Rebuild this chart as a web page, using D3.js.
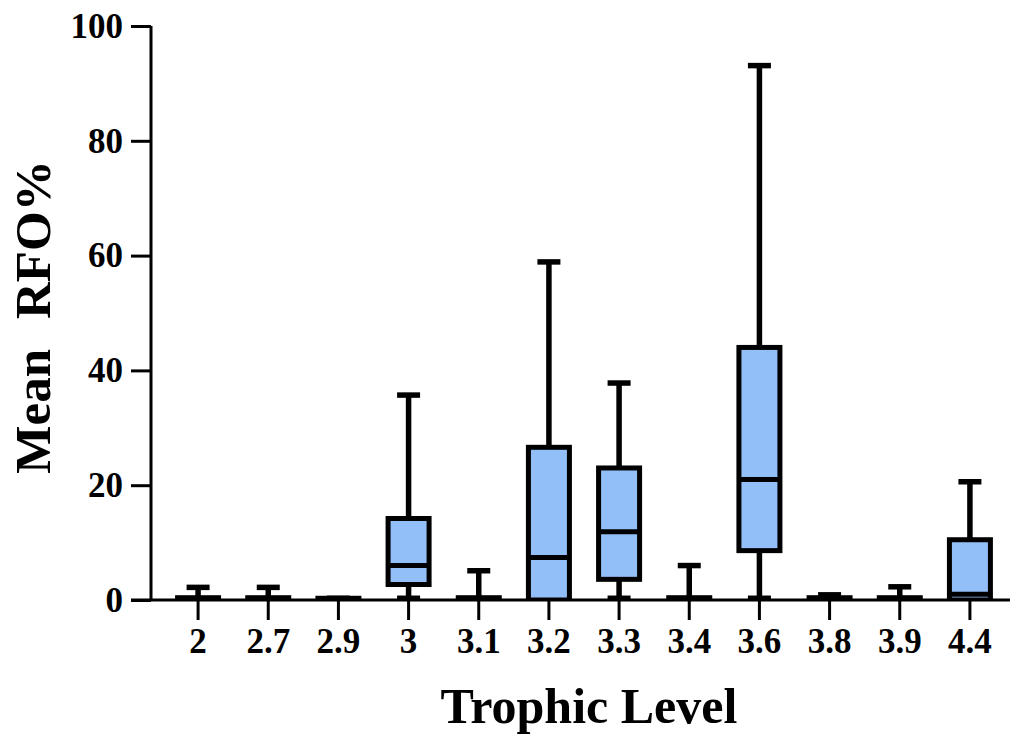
<!DOCTYPE html>
<html>
<head>
<meta charset="utf-8">
<script src="https://cdn.jsdelivr.net/npm/d3@7"></script>
<style>
  body { margin: 0; background: #fff; }
  text { font-family: "Liberation Serif", "Times New Roman", serif; font-weight: bold; fill: #000; }
</style>
</head>
<body>
<svg width="1011" height="734"></svg>
<script>
// trophic levels and box stats
const levels = ["2", "2.7", "2.9", "3", "3.1", "3.2", "3.3", "3.4", "3.6", "3.8", "3.9", "4.4"];
const whiskLow = [0, 0, 0, 0.3, 0, 0, 0.3, 0, 0.3, 0, 0, 0];
const q1 = [0, 0, 0, 2.7, 0, 0, 3.6, 0, 8.6, 0, 0, 0];
const median = [0, 0, 0, 6.0, 0, 7.4, 11.9, 0, 21.0, 0, 0, 1.0];
const q3 = [0.4, 0.4, 0.3, 14.2, 0.4, 26.6, 23.0, 0.4, 44.0, 0.4, 0.4, 10.5];
const whiskHigh = [2.2, 2.2, 0.3, 35.7, 5.1, 58.9, 37.8, 6.0, 93.1, 0.9, 2.3, 20.6];
const yTicks = [0, 20, 40, 60, 80, 100];

var svg = d3.select("svg");

var x = d3.scaleBand()
    .domain(levels)
    .range([163, 1005]);

var y = d3.scaleLinear()
    .domain([0, 100])
    .range([600, 26]);

var rows = levels.map(function(d, i) {
  return {k: d, lo: whiskLow[i], q1: q1[i], med: median[i], q3: q3[i], hi: whiskHigh[i]};
});

svg.append("clipPath").attr("id", "plot")
  .append("rect").attr("x", 150).attr("y", 0).attr("width", 861).attr("height", y(0) + 1);

var g = svg.append("g").attr("clip-path", "url(#plot)");
var boxW = 41, capW = 23;

var box = g.selectAll(".box").data(rows).enter().append("g")
    .attr("transform", function(d) { return "translate(" + (x(d.k) + x.bandwidth() / 2) + ",0)"; });

// whiskers
box.append("line")
    .attr("y1", function(d) { return y(d.hi); })
    .attr("y2", function(d) { return y(d.lo); })
    .attr("stroke", "#000").attr("stroke-width", 5.5);

box.append("line")
    .attr("x1", -capW / 2).attr("x2", capW / 2)
    .attr("y1", function(d) { return y(d.hi); })
    .attr("y2", function(d) { return y(d.hi); })
    .attr("stroke", "#000").attr("stroke-width", 5.5);

box.append("line")
    .attr("x1", -capW / 2).attr("x2", capW / 2)
    .attr("y1", function(d) { return y(d.lo); })
    .attr("y2", function(d) { return y(d.lo); })
    .attr("stroke", "#000").attr("stroke-width", 5.5);

box.append("rect")
    .attr("x", -boxW / 2).attr("width", boxW)
    .attr("y", function(d) { return y(d.q3); })
    .attr("height", function(d) { return y(d.q1) - y(d.q3); })
    .attr("fill", "#93bff9")
    .attr("stroke", "#000").attr("stroke-width", 5);

box.append("line")
    .attr("x1", -boxW / 2).attr("x2", boxW / 2)
    .attr("y1", function(d) { return y(d.med); })
    .attr("y2", function(d) { return y(d.med); })
    .attr("stroke", "#000").attr("stroke-width", 5);

// axes
var yAxis = svg.append("g")
    .attr("transform", "translate(151,0)")
    .call(d3.axisLeft(y).tickValues(yTicks).tickSize(20).tickPadding(8).tickSizeOuter(0));

var xAxis = svg.append("g")
    .attr("transform", "translate(0," + y(0) + ")")
    .call(d3.axisBottom(x).tickSize(20).tickPadding(8).tickSizeOuter(0));

[yAxis, xAxis].forEach(function(a) {
  a.select(".domain").attr("stroke", "#000").attr("stroke-width", 3);
  a.selectAll(".tick line").attr("stroke", "#000").attr("stroke-width", 3);
  a.selectAll(".tick text").attr("font-size", 35).attr("fill", "#000")
      .style("font-family", "Liberation Serif").style("font-weight", "bold");
});
yAxis.select(".domain").attr("d", "M0," + y(0) + "V" + y(100));
xAxis.select(".domain").attr("d", "M131,0H1010");

svg.append("text")
    .attr("x", 589).attr("y", 723)
    .attr("text-anchor", "middle")
    .attr("font-size", 50)
    .text("Trophic Level");

var yTitle = svg.append("text")
    .attr("transform", "translate(50,317) rotate(-90)")
    .attr("text-anchor", "middle")
    .attr("font-size", 51);
yTitle.append("tspan").text("Mean");
yTitle.append("tspan").attr("dx", 30).text("RFO%");
</script>
</body>
</html>
